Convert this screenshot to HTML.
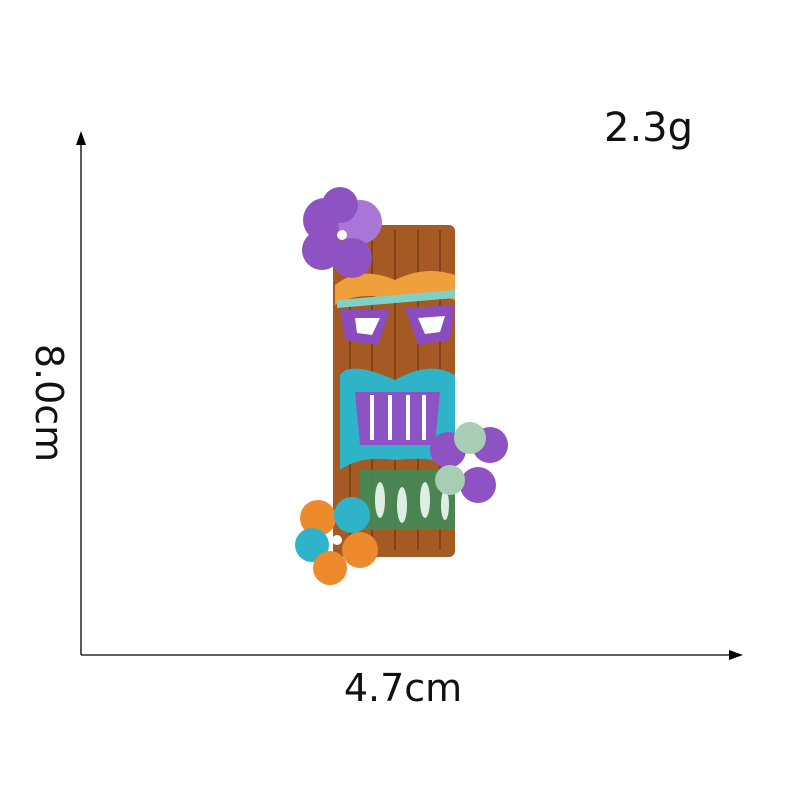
<!DOCTYPE html>
<html><head><meta charset="utf-8"><style>
html,body{margin:0;padding:0;background:#fff;}
svg{display:block}
text{font-family:"DejaVu Sans","Liberation Sans",sans-serif;fill:#111}
</style></head><body>
<svg width="800" height="800" viewBox="0 0 800 800">
  <rect width="800" height="800" fill="#fff"/>
  <g>
    <line x1="81" y1="140" x2="81" y2="655" stroke="#000" stroke-width="1.3"/>
    <polygon points="81,131 76,145 86,145" fill="#000"/>
  </g>
  <g>
    <line x1="81" y1="655" x2="735" y2="655" stroke="#000" stroke-width="1.3"/>
    <polygon points="743,655 729,650 729,660" fill="#000"/>
  </g>
  <text x="604" y="141" font-size="40">2.3g</text>
  <text x="403" y="701" font-size="38" text-anchor="middle">4.7cm</text>
  <text transform="translate(36,403) rotate(90)" font-size="38" text-anchor="middle">8.0cm</text>

  <g>
    <rect x="333" y="225" width="122" height="332" rx="6" fill="#a45a22"/>
    <g stroke="#6b3411" stroke-width="2" opacity="0.6">
      <line x1="350" y1="230" x2="350" y2="550"/><line x1="372" y1="230" x2="372" y2="550"/>
      <line x1="395" y1="230" x2="395" y2="550"/><line x1="418" y1="230" x2="418" y2="550"/>
      <line x1="440" y1="230" x2="440" y2="550"/>
    </g>
    <path d="M335 285 Q360 265 395 280 Q425 265 455 275 L455 300 Q425 290 395 300 Q360 290 335 305Z" fill="#f0a03a"/>
    <path d="M337 300 L455 290 L455 298 L337 308Z" fill="#7fd1c8"/>
    <path d="M340 310 L390 310 L378 345 L345 340Z" fill="#8b4cc0"/>
    <path d="M355 318 L380 318 L372 335 L357 333Z" fill="#fff"/>
    <path d="M405 308 L455 305 L450 340 L418 345Z" fill="#8b4cc0"/>
    <path d="M418 318 L445 316 L440 332 L425 334Z" fill="#fff"/>
    <path d="M340 375 Q350 360 395 380 Q430 360 455 375 L455 470 Q440 455 395 460 Q360 455 340 470Z" fill="#2fb3c8"/>
    <path d="M355 392 L440 392 L435 445 L360 445Z" fill="#8d52c4"/>
    <g stroke="#fff" stroke-width="4">
      <line x1="372" y1="395" x2="372" y2="440"/><line x1="390" y1="395" x2="390" y2="440"/>
      <line x1="408" y1="395" x2="408" y2="440"/><line x1="424" y1="395" x2="424" y2="440"/>
    </g>
    <path d="M360 470 L455 470 L455 530 L360 530Z" fill="#3c8e5a" opacity="0.85"/>
    <g fill="#dfeee4"><ellipse cx="380" cy="500" rx="5" ry="18"/><ellipse cx="402" cy="505" rx="5" ry="18"/><ellipse cx="425" cy="500" rx="5" ry="18"/><ellipse cx="445" cy="505" rx="4" ry="15"/></g>
  </g>
  <g>
    <circle cx="325" cy="220" r="22" fill="#8f52c2"/><circle cx="360" cy="222" r="22" fill="#a776d6"/>
    <circle cx="322" cy="250" r="20" fill="#8f52c2"/><circle cx="352" cy="258" r="20" fill="#8f52c2"/>
    <circle cx="340" cy="205" r="18" fill="#8f52c2"/><circle cx="342" cy="235" r="5" fill="#fff"/>
  </g>
  <g>
    <circle cx="448" cy="450" r="18" fill="#8f52c2"/><circle cx="490" cy="445" r="18" fill="#8f52c2"/>
    <circle cx="470" cy="438" r="16" fill="#a8cdb5"/><circle cx="478" cy="485" r="18" fill="#8f52c2"/>
    <circle cx="450" cy="480" r="15" fill="#a8cdb5"/><circle cx="470" cy="462" r="5" fill="#fff"/>
  </g>
  <g>
    <circle cx="318" cy="518" r="18" fill="#ec8a2c"/><circle cx="352" cy="515" r="18" fill="#2fb3c8"/>
    <circle cx="312" cy="545" r="17" fill="#2fb3c8"/><circle cx="360" cy="550" r="18" fill="#ec8a2c"/>
    <circle cx="330" cy="568" r="17" fill="#ec8a2c"/><circle cx="337" cy="540" r="5" fill="#fff"/>
  </g>
</svg>
</body></html>
